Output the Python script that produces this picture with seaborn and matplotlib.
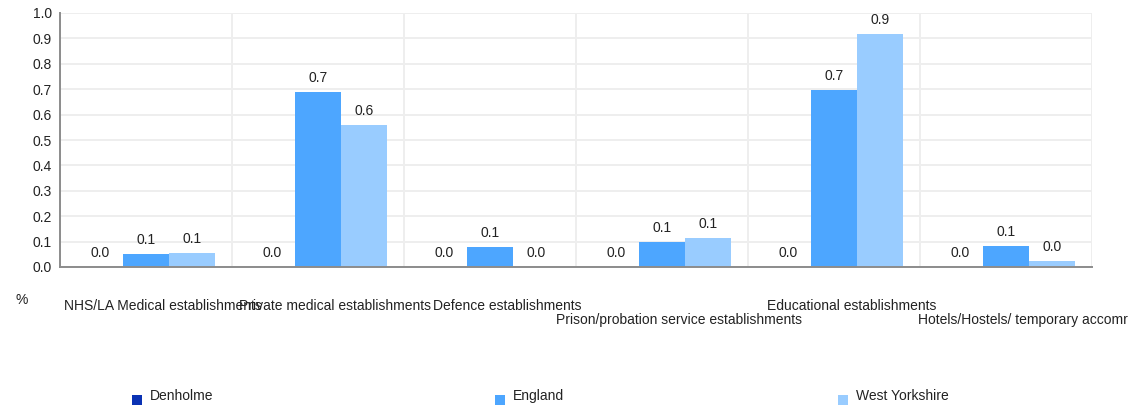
import numpy as np
import pandas as pd
import matplotlib
matplotlib.use("Agg")
import matplotlib.pyplot as plt
import matplotlib.transforms as mtransforms
from matplotlib.patches import Rectangle
import seaborn as sns

# Data
categories = [
    "NHS/LA Medical establishments",
    "Private medical establishments",
    "Defence establishments",
    "Prison/probation service establishments",
    "Educational establishments",
    "Hotels/Hostels/ temporary accomr",
]
series = ["Denholme", "England", "West Yorkshire"]
denholme = [0.0, 0.0, 0.0, 0.0, 0.0, 0.0]
england = [0.051, 0.689, 0.080, 0.098, 0.697, 0.084]
west_yorkshire = [0.056, 0.559, 0.0, 0.114, 0.917, 0.025]
colors = ["#0a32b4", "#4da6ff", "#99ccff"]

df = pd.DataFrame({
    "category": categories * 3,
    "series": [s for s in series for _ in categories],
    "value": denholme + england + west_yorkshire,
})

sns.set_style("white")
plt.rcParams["font.family"] = ["Liberation Sans", "DejaVu Sans"]
fs = 10

fig = plt.figure(figsize=(11.33, 4.07), dpi=100)
ax = fig.add_axes([60 / 1133, 1 - 267 / 407, (1092 - 60) / 1133, (267 - 13) / 407])

sns.barplot(data=df, x="category", y="value", hue="series", order=categories,
            hue_order=series, palette=colors, width=0.8, saturation=1,
            linewidth=0, legend=False, ax=ax)

for cont in ax.containers:
    ax.bar_label(cont, fmt="%.1f", padding=5, fontsize=fs, color="#222222")

ax.set_xlim(-0.5, len(categories) - 0.5)
ax.set_ylim(0, 1.0)
ax.set_yticks(np.arange(0, 1.01, 0.1))
ax.set_yticklabels([f"{v:.1f}" for v in np.arange(0, 1.01, 0.1)], fontsize=fs)
ax.set_xticks(np.arange(-0.5, len(categories), 1.0))
ax.set_xticklabels([])
ax.set_xlabel("")
ax.set_ylabel("")

ax.grid(True, color="#eeeeee", linewidth=1.4)
ax.set_axisbelow(True)
for s in ["top", "right"]:
    ax.spines[s].set_visible(False)
for s in ["left", "bottom"]:
    ax.spines[s].set_color("#8c8c8c")
    ax.spines[s].set_linewidth(1.4)
ax.tick_params(axis="both", colors="#8c8c8c", labelcolor="#222222", length=5, width=1.4, pad=1)
ax.tick_params(axis="x", length=6)

# staggered category labels
trans = mtransforms.blended_transform_factory(ax.transData, fig.transFigure)
for i, lab in enumerate(categories):
    y = 1 - 320 / 407 if i in (3, 5) else 1 - 306 / 407
    ax.text(i + 0.1, y, lab, transform=trans, ha="center", va="center",
            fontsize=fs, color="#222222", clip_on=False)

fig.text(15 / 1133, 1 - 300 / 407, "%", fontsize=fs, color="#222222", va="center")

# legend
for name, col, x0 in zip(series, colors, [132, 495, 838]):
    fig.patches.append(Rectangle((x0 / 1133, 1 - 405 / 407), 10 / 1133, 10 / 407,
                                 transform=fig.transFigure, facecolor=col,
                                 edgecolor="none"))
    fig.text((x0 + 18) / 1133, 1 - 396 / 407, name, fontsize=fs, color="#222222",
             va="center")

fig.savefig("out.png", dpi=100)
